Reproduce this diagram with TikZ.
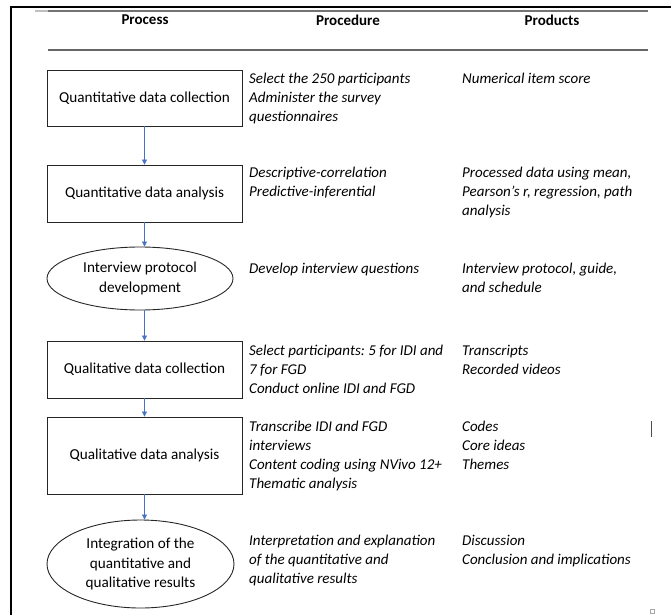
\documentclass[tikz,border=0pt]{standalone}
\usepackage{fontspec}
\setmainfont{Carlito}
\frenchspacing
\usetikzlibrary{arrows.meta,shapes.geometric}
\definecolor{arrblue}{HTML}{4472C4}
\tikzset{
  procbox/.style={draw=black!85, line width=0.9pt, rectangle, minimum width=195pt, inner sep=0pt, font=\fontsize{15.2}{19}\selectfont},
  procell/.style={draw=black!85, line width=0.9pt, ellipse, inner sep=0pt, align=center, font=\fontsize{15.2}{19.5}\selectfont},
  coltext/.style={anchor=north west, inner sep=0pt, align=left, font=\fontsize{15}{19}\selectfont\itshape},
  head/.style={anchor=center, inner sep=0pt, font=\fontsize{15}{18}\selectfont\bfseries},
  arr/.style={draw=arrblue, line width=0.6pt, -{Triangle[width=5pt,length=5pt]}},
}
\begin{document}
\begin{tikzpicture}[x=1pt,y=-1pt]
\useasboundingbox (0,0) rectangle (671,615);
% frame
\draw[black, line width=2pt] (11,7) -- (671,7);
\draw[black, line width=2pt] (11,6) -- (11,615);
\draw[black!55, line width=1.3pt] (48,11) -- (648,11);
\draw[black!25, line width=1.3pt] (35,11) -- (48,11);
\draw[black!60, line width=1.2pt] (48,50) -- (648,50);
% headers
\node[head] (hproc) at (145,20) {Process};
\node[head] (hprd) at (348,20) {Procedure};
\node[head] (hprod) at (552,20) {Products};
% process shapes
\node[procbox, minimum height=56pt] (b1) at (144.5,98) {Quantitative data collection};
\node[procbox, minimum height=57pt] (b2) at (144.5,193.5) {Quantitative data analysis};
\node[procell, minimum width=186pt, minimum height=63pt] (e1) at (140,278.5) {Interview protocol\\ development};
\node[procbox, minimum height=57pt] (b3) at (144.5,369.5) {Qualitative data collection};
\node[procbox, minimum height=77pt] (b4) at (144.5,455.5) {Qualitative data analysis};
\node[procell, minimum width=187pt, minimum height=88pt] (e2) at (140.5,564) {Integration of the\\ quantitative and\\ qualitative results};
% arrows
\draw[arr] (b1.south) -- (b2.north);
\draw[arr] (b2.south) -- (b2.south |- e1.north);
\draw[arr] (b3.north |- e1.south) -- (b3.north);
\draw[arr] (b3.south) -- (b4.north);
\draw[arr] (b4.south) -- (b4.south |- e2.north);
% procedure column
\node[coltext] (p1) at (249,70) {\strut Select the 250 participants\\ Administer the survey\\ questionnaires};
\node[coltext] (p2) at (249,164) {\strut Descriptive-correlation\\ Predictive-inferential};
\node[coltext] (p3) at (249,260) {\strut Develop interview questions};
\node[coltext] (p4) at (249,342) {\strut Select participants: 5 for IDI and\\ 7 for FGD\\ Conduct online IDI and FGD};
\node[coltext] (p5) at (249,418) {\strut Transcribe IDI and FGD\\ interviews\\ Content coding using NVivo 12+\\ Thematic analysis};
\node[coltext] (p6) at (249,532) {\strut Interpretation and explanation\\ of the quantitative and\\ qualitative results};
% products column
\node[coltext] (q1) at (462,70) {\strut Numerical item score};
\node[coltext] (q2) at (462,164) {\strut Processed data using mean,\\ Pearson’s r, regression, path\\ analysis};
\node[coltext] (q3) at (462,260) {\strut Interview protocol, guide,\\ and schedule};
\node[coltext] (q4) at (462,342) {\strut Transcripts\\ Recorded videos};
\node[coltext] (q5) at (462,418) {\strut Codes\\ Core ideas\\ Themes};
\node[coltext] (q6) at (462,532) {\strut Discussion\\ Conclusion and implications};
% stray marks
\draw[black!70, line width=1pt] (651,421) -- (651,437);
\draw[black!35, line width=0.5pt] (650,609) rectangle (654,613);
\end{tikzpicture}
\end{document}
